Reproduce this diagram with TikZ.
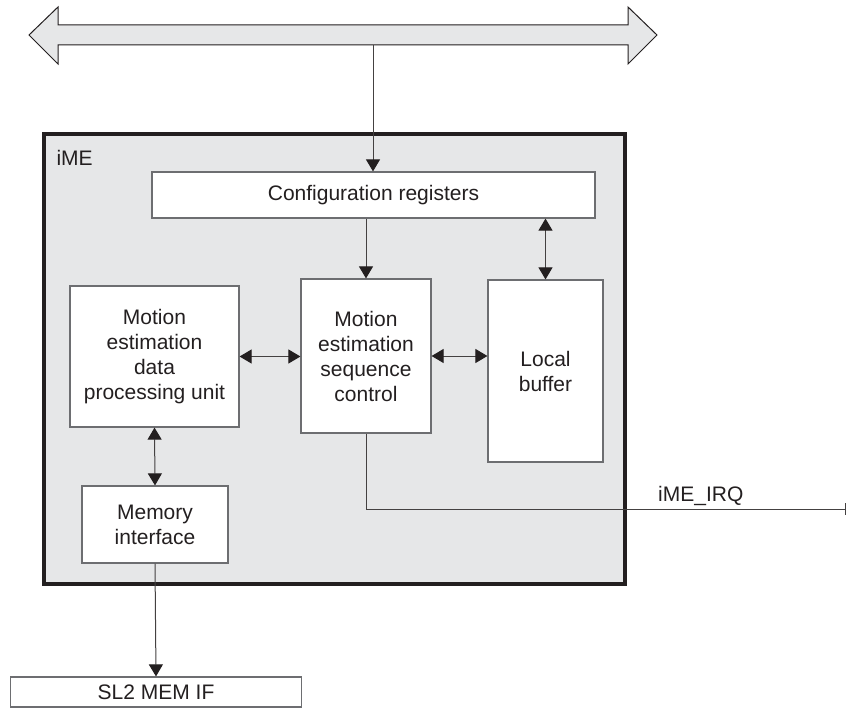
\documentclass[tikz,border=0pt]{standalone}
\usepackage{fontspec}
\setmainfont{Liberation Sans}
\usetikzlibrary{arrows.meta}
\definecolor{panel}{HTML}{E6E7E8}
\definecolor{ink}{HTML}{231F20}
\definecolor{edge}{HTML}{6D6E71}
\begin{document}
\begin{tikzpicture}[x=1pt,y=-1pt,
  every node/.style={font=\fontsize{21}{25}\selectfont, text=ink},
  blk/.style={draw=edge, line width=1.2pt, fill=white, align=center, inner sep=0pt},
  conn/.style={draw=ink!85, line width=1pt},
  tip/.style={-{Triangle[length=12pt,width=14pt,color=ink]}},
  tips/.style={{Triangle[length=12pt,width=14pt,color=ink]}-{Triangle[length=12pt,width=14pt,color=ink]}}]
\useasboundingbox (0,0) rectangle (848,709);
% bus
\draw[draw=ink, line width=1pt, fill=panel, line join=miter]
  (29,35) -- (58,7) -- (58,25) -- (628,25) -- (628,7) -- (657,35)
  -- (628,64) -- (628,45) -- (58,45) -- (58,64) -- cycle;
\coordinate (busbot) at (373,45.5);
% main panel
\draw[draw=ink, line width=3.2pt, fill=panel] (44,134) rectangle (625,584);
\node[anchor=west] (ime) at (53,158) {iME};
% blocks
\node[blk, minimum width=443pt, minimum height=46pt] (cfg) at (373.5,195) {Configuration registers};
\node[blk, minimum width=169pt, minimum height=141pt] (dp) at (154.5,356.5) {Motion\\estimation\\data\\processing unit};
\node[blk, minimum width=130pt, minimum height=154pt] (seq) at (366,356) {Motion\\estimation\\sequence\\control};
\node[blk, minimum width=115pt, minimum height=182pt] (lb) at (545.5,371) {Local\\buffer};
\node[blk, minimum width=146pt, minimum height=77pt] (mem) at (155,524.5) {Memory\\interface};
\node[blk, minimum width=291pt, minimum height=30pt] (sl2) at (156,692) {SL2 MEM IF};
\coordinate (irq) at (846,509);
% connectors
\draw[conn, tip] (busbot) -- (cfg.north -| busbot);
\draw[conn, tip] (seq.north |- cfg.south) -- (seq.north);
\draw[conn, tips] (lb.north |- cfg.south) -- (lb.north);
\draw[conn, tips] (dp.east) -- (seq.west |- dp.east);
\draw[conn, tips] (seq.east) -- (lb.west |- seq.east);
\draw[conn, tips] (dp.south) -- (mem.north);
\draw[conn, tip] (mem.south) -- (sl2.north);
\draw[conn, -{Bar[width=12pt]}] (seq.south) |- (irq);
\node[anchor=base west, inner sep=0pt] (irqlbl) at (658,501) {iME\_IRQ};
\end{tikzpicture}
\end{document}
